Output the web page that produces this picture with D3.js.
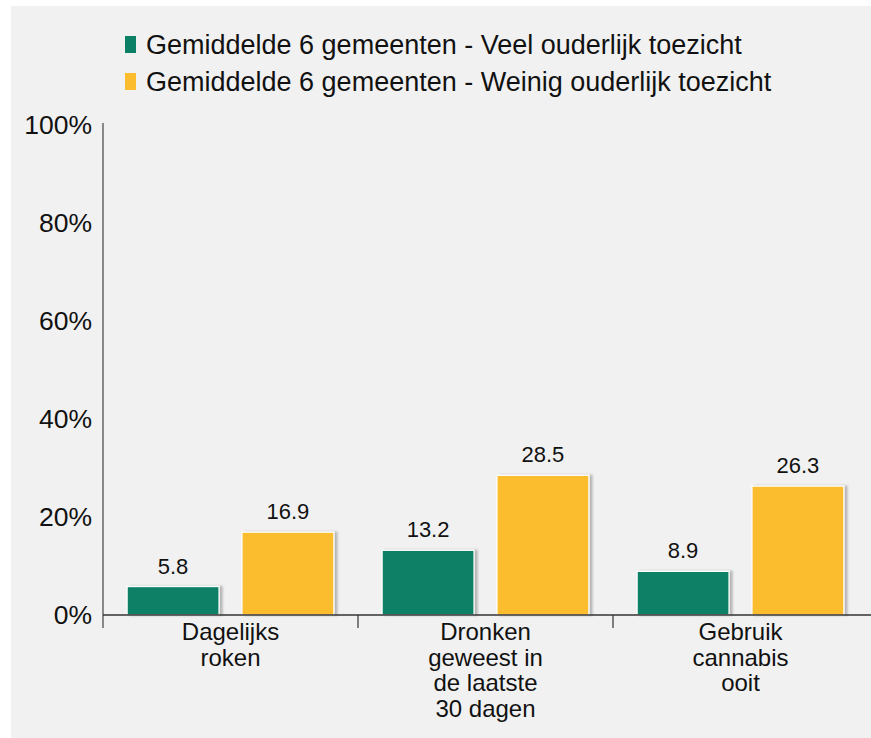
<!DOCTYPE html>
<html>
<head>
<meta charset="utf-8">
<script src="https://cdn.jsdelivr.net/npm/d3@7"></script>
<style>
  html, body { margin: 0; padding: 0; background: #ffffff; }
  svg { display: block; }
  text { font-family: "Liberation Sans", Arial, sans-serif; fill: #111; }
</style>
</head>
<body>
<svg id="chart" width="871" height="738"></svg>
<script>
const categories = [
  ["Dagelijks", "roken"],
  ["Dronken", "geweest in", "de laatste", "30 dagen"],
  ["Gebruik", "cannabis", "ooit"]
];
const seriesNames = [
  "Gemiddelde 6 gemeenten - Veel ouderlijk toezicht",
  "Gemiddelde 6 gemeenten - Weinig ouderlijk toezicht"
];
const seriesColors = ["#0b8065", "#fbbc2f"];
const veelValues = [5.8, 13.2, 8.9];
const weinigValues = [16.9, 28.5, 26.3];
const yTicks = [0, 20, 40, 60, 80, 100];

const svg = d3.select("#chart");
const W = 871, H = 738;
const margin = { left: 103, right: 3, top: 125, bottom: 123 };

svg.append("rect").attr("x", 11).attr("y", 6).attr("width", W - 11).attr("height", H - 6).attr("fill", "#f1f1f1");

const defs = svg.append("defs");
const f = defs.append("filter").attr("id", "shadow").attr("x", "-10%").attr("y", "-10%").attr("width", "130%").attr("height", "130%");
f.append("feDropShadow").attr("dx", 3).attr("dy", 0).attr("stdDeviation", 1.2).attr("flood-color", "#000").attr("flood-opacity", 0.25);

const x0 = d3.scaleBand().domain(d3.range(categories.length)).range([margin.left, W - margin.right]).paddingInner(0).paddingOuter(0);
const x1 = d3.scaleBand().domain([0, 1]).range([0, x0.bandwidth()]).paddingInner(0.2).paddingOuter(0.21);
const y = d3.scaleLinear().domain([0, 100]).range([H - margin.bottom, margin.top]);

// bars
const data = categories.map((c, i) => [veelValues[i], weinigValues[i]]);
const groups = svg.append("g").selectAll("g").data(data).join("g")
  .attr("transform", (d, i) => `translate(${x0(i)},0)`);
groups.selectAll("rect").data(d => d).join("rect")
  .attr("x", (d, j) => x1(j))
  .attr("y", d => y(d))
  .attr("width", x1.bandwidth())
  .attr("height", d => y(0) - y(d))
  .attr("fill", (d, j) => seriesColors[j])
  .attr("stroke", "#ffffff")
  .attr("stroke-width", 1.2)
  .attr("filter", "url(#shadow)");
groups.selectAll("text.val").data(d => d).join("text")
  .attr("class", "val")
  .attr("x", (d, j) => x1(j) + x1.bandwidth() / 2)
  .attr("y", d => y(d) - 13)
  .attr("text-anchor", "middle")
  .attr("font-size", 22)
  .text(d => d.toFixed(1));

// y axis
const yAxis = d3.axisLeft(y).tickValues(yTicks).tickSize(0).tickPadding(11).tickFormat(d => d + "%");
const gy = svg.append("g").attr("transform", `translate(${margin.left},0)`).call(yAxis);
gy.select(".domain").remove();
gy.selectAll("text").attr("font-size", 26.5).attr("font-family", "Liberation Sans, Arial, sans-serif").attr("fill", "#111");
svg.append("line").attr("x1", margin.left).attr("x2", margin.left).attr("y1", y(100) - 2).attr("y2", y(0) + 13)
  .attr("stroke", "#444").attr("stroke-width", 1.2);

// x axis
svg.append("line").attr("x1", margin.left).attr("x2", W).attr("y1", y(0)).attr("y2", y(0))
  .attr("stroke", "#333").attr("stroke-width", 1.5);
const tickXs = d3.range(categories.length).map(i => x0(i)).slice(1);
svg.append("g").selectAll("line").data(tickXs).join("line")
  .attr("x1", d => d).attr("x2", d => d).attr("y1", y(0)).attr("y2", y(0) + 13)
  .attr("stroke", "#333").attr("stroke-width", 1.2);
const catLabels = svg.append("g").selectAll("text").data(categories).join("text")
  .attr("text-anchor", "middle")
  .attr("font-size", 24)
  .attr("x", (d, i) => x0(i) + x0.bandwidth() / 2)
  .attr("y", y(0) + 25);
catLabels.selectAll("tspan").data(d => d).join("tspan")
  .attr("x", function () { return this.parentNode.getAttribute("x"); })
  .attr("dy", (d, k) => k === 0 ? 0 : 25.5)
  .text(d => d);

// legend
const leg = svg.append("g").selectAll("g").data(seriesNames).join("g")
  .attr("transform", (d, i) => `translate(125,${36 + i * 37})`);
leg.append("rect").attr("width", 11).attr("height", 17).attr("fill", (d, i) => seriesColors[i]);
leg.append("text").attr("x", 21).attr("y", 17.5).attr("font-size", 27).text(d => d);
</script>
</body>
</html>
